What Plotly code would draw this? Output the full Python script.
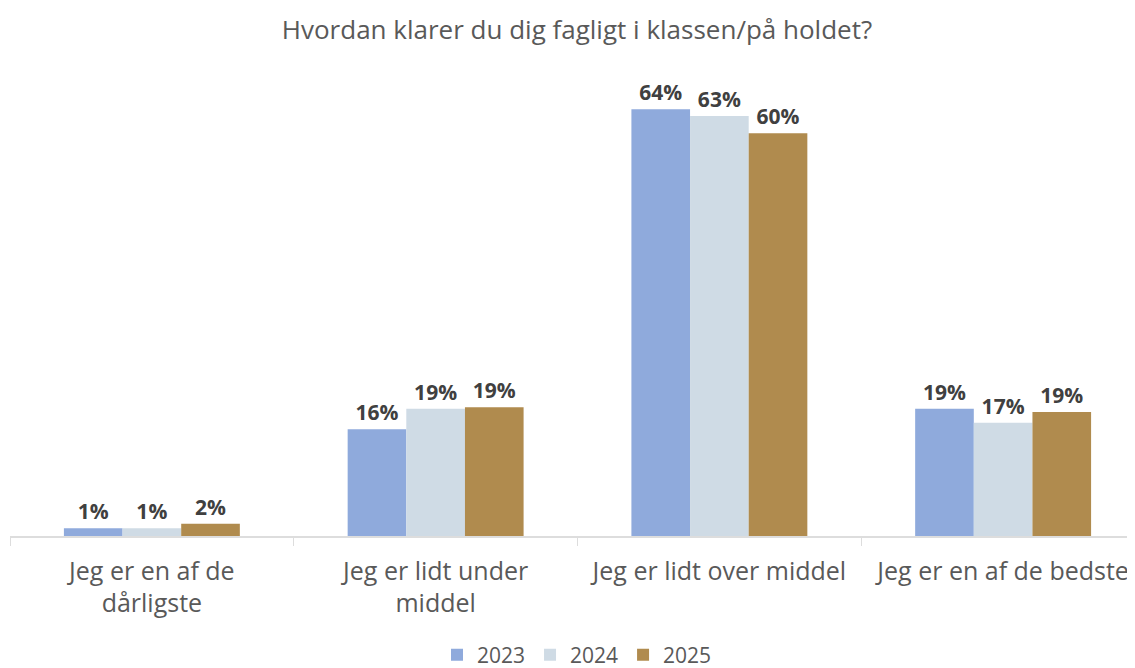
import plotly.graph_objects as go

categories = ["Jeg er en af de<br>dårligste", "Jeg er lidt under<br>middel",
              "Jeg er lidt over middel", "Jeg er en af de bedste"]
years = ["2023", "2024", "2025"]
v2023 = [0.0115, 0.160, 0.640, 0.191]
v2024 = [0.0115, 0.191, 0.630, 0.170]
v2025 = [0.0185, 0.193, 0.604, 0.186]
colors = ["#8FAADC", "#CFDBE5", "#B08B4E"]

FONT = "Open Sans"

fig = go.Figure()
for name, vals, col in zip(years, [v2023, v2024, v2025], colors):
    fig.add_trace(go.Bar(
        x=categories, y=vals, name=name,
        marker=dict(color=col, line=dict(width=0)),
        texttemplate="%{y:.0%}", textposition="outside",
        textfont=dict(family=FONT, size=21, color="#404040", weight="bold"),
        cliponaxis=False,
    ))

# page body has an 8px margin: figure pixel = viewport pixel - 8
W, H = 1140, 668
fig.update_layout(
    width=W, height=H,
    paper_bgcolor="white", plot_bgcolor="white",
    barmode="group", bargap=0.38, bargroupgap=0,
    margin=dict(l=2, r=3, t=62, b=H - 62 - 466),
    title=dict(text="Hvordan klarer du dig fagligt i klassen/på holdet?",
               x=569 / W, xanchor="center", y=1 - 22 / H, yanchor="middle",
               font=dict(family=FONT, size=26, color="#595959")),
    font=dict(family=FONT, color="#595959"),
    legend=dict(orientation="h", x=569 / W, xanchor="center", xref="container",
                y=1 - 647 / H, yanchor="middle", yref="container",
                font=dict(family=FONT, size=21, color="#595959"),
                itemsizing="constant"),
    xaxis=dict(showline=True, linecolor="#DDDDDD", linewidth=1.5,
               ticks="outside", tickson="boundaries", ticklen=8,
               tickcolor="#DDDDDD", tickwidth=1,
               range=[-0.5, 3.5], ticklabelstandoff=12,
               tickfont=dict(family=FONT, size=25, color="#595959")),
    yaxis=dict(range=[0, 0.699], visible=False, showgrid=False),
)

fig.write_html("out.html")
